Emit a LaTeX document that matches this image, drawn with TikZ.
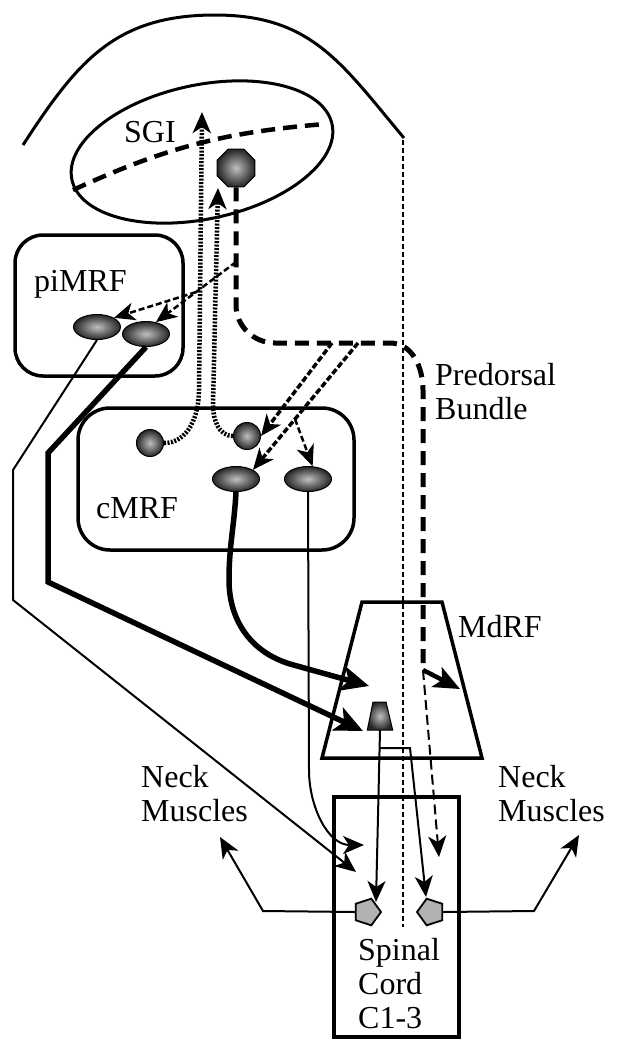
\documentclass[tikz,border=0pt]{standalone}
\usepackage{fontspec}
\setmainfont{Liberation Serif}
\usetikzlibrary{arrows.meta,shapes.geometric,calc}
\tikzset{
    cell/.style={draw=black, line width=1pt, shading=radial, inner color=black!25, outer color=black!85, inner sep=0pt},
    oval/.style={cell, ellipse, minimum width=47pt, minimum height=25pt},
    soma/.style={cell, circle, minimum size=27pt},
    motor/.style={regular polygon, regular polygon sides=5, draw=black, fill=black!30, line width=1.8pt, minimum size=28pt, inner sep=0pt},
    region/.style={draw=black, line width=3.5pt},
    lbl/.style={inner sep=0pt, anchor=north west, align=left, font=\fontsize{32}{34}\selectfont},
    bigtip/.style={-{Stealth[length=28pt, width=25pt, inset=7pt]}},
    smalltip/.style={-{Stealth[length=21pt, width=18pt, inset=6pt]}},
    thickax/.style={line width=5.5pt, bigtip},
    thinax/.style={line width=2pt, smalltip},
    bundle/.style={line width=5pt, dash pattern=on 14pt off 8pt},
    fiber/.style={line width=3.5pt, dash pattern=on 6pt off 2.5pt, smalltip},
    twig/.style={line width=2.5pt, dash pattern=on 6pt off 3pt, smalltip},
    dotfib/.style={line width=4.5pt, dash pattern=on 2pt off 1.5pt, smalltip}
}
\begin{document}
\begin{tikzpicture}[x=1pt, y=1pt]
    \useasboundingbox (0,0) rectangle (622,-1050);
    \draw[line width=3pt] (23,-145) to[out=57, in=180, looseness=1.1] (215,-15) to[out=0, in=130, looseness=1.1] (404,-138);
    \draw[line width=1.2pt, dash pattern=on 5pt off 3pt] (403,-140) -- (403,-927);
    \node[region, line width=3pt, ellipse, minimum width=266pt, minimum height=134pt, rotate=12] (sgi) at (202,-152) {};
    \draw[line width=4.5pt, dash pattern=on 14pt off 8pt] (73,-190) to[bend left=10] (325,-124);
    \node[lbl] (sgilbl) at (124,-121) {SGI};
    \node[cell, regular polygon, regular polygon sides=8, minimum size=41pt] (tect) at (236,-168) {};

    \node[region, rounded corners=28pt, minimum width=168pt, minimum height=141pt] (pibox) at (99,-305.5) {};
    \node[lbl] (pilbl) at (34,-270) {piMRF};
    \node[oval] (pi1) at (97,-327) {};
    \node[oval] (pi2) at (146,-334) {};

    \node[region, rounded corners=32pt, minimum width=276pt, minimum height=142pt] (cbox) at (216,-479) {};
    \node[lbl] (clbl) at (96,-497) {cMRF};
    \node[soma] (cs1) at (150,-443) {};
    \node[soma] (cs2) at (247,-436) {};
    \node[oval] (co1) at (236,-479) {};
    \node[oval] (co2) at (308,-479) {};

    \draw[region, line join=miter] (362,-602) -- (442,-602) -- (482,-758) -- (322,-758) -- cycle;
    \node[lbl] (mdlbl) at (458,-615) {MdRF};
    \node[inner sep=0pt, minimum width=25pt, minimum height=28pt] (md) at (380,-716) {};
    \shade[draw=black, line width=1pt, shading=radial, inner color=black!25, outer color=black!85] (md.south west) -- (373,-702) -- (386,-702) -- (md.south east) -- cycle;

    \node[region, minimum width=125pt, minimum height=240pt] (sc) at (396.5,-917) {};
    \node[lbl] (sclbl) at (358,-938) {Spinal\\Cord\\C1-3};
    \node[motor, shape border rotate=-90] (mnL) at (367,-912) {};
    \node[motor, shape border rotate=90] (mnR) at (431,-912) {};
    \node[lbl] (neckL) at (141,-765) {Neck\\Muscles};
    \node[lbl] (neckR) at (498,-765) {Neck\\Muscles};
    \node[lbl] (pdlbl) at (435,-363) {Predorsal\\Bundle};

    \coordinate (sgiTop) at (202,-112);
    \coordinate (tectIn) at (218,-188);
    \coordinate (pdA) at (423,-670);
    \coordinate (pdB) at (236,-262);
    \coordinate (pdC) at (332,-343);
    \coordinate (pdD) at (358,-343);
    \coordinate (mdIn1) at (369,-686);
    \coordinate (mdIn2) at (363,-731);
    \coordinate (mdOut) at (460,-689);
    \coordinate (scIn1) at (356,-872);
    \coordinate (scIn2) at (364,-845);
    \coordinate (scIn3) at (439,-857);
    \coordinate (mnLIn) at (376,-902);
    \coordinate (mnRIn) at (426,-897);
    \coordinate (mdBr) at (379.5,-748);
    \coordinate (nmL) at (220,-837);
    \coordinate (nmR) at (579,-835);

    \draw[dotfib] (cs1.east) to[out=0, in=-90] (199,-390) -- (sgiTop);
    \draw[dotfib] (cs2.west) to[out=180, in=-90] (213,-405) -- (tectIn);
    \draw[bundle] (tect.south) -- (236,-305) to[out=-90, in=180] (275,-343) -- (390,-343) to[out=0, in=90] (423,-390) -- (pdA);
    \draw[line width=4.5pt, -{Stealth[length=26pt, width=22pt, inset=6pt]}] (pdA) -- (mdOut);
    \draw[line width=2pt, dash pattern=on 10pt off 5pt, smalltip] (pdA) -- (scIn3);
    \draw[twig] (pdB) -- (pi2.50);
    \draw[twig] ($(pdB)!0.5!(pi2.50)$) -- (pi1.north east);
    \draw[fiber] (pdC) -- (cs2.east);
    \draw[fiber] (pdD) -- (co1.north east);
    \draw[twig] ($(pdD)!0.6!(co1.north east)$) -- (co2.70);

    \draw[thinax] (pi1.south) -- (13,-470) -- (13,-600) -- (scIn1);
    \draw[thickax] (pi2.south) -- (48,-453) -- (48,-582) -- (mdIn2);
    \draw[thickax] (co1.south) to[out=-93, in=90] (229,-580) to[out=-90, in=163] (290,-664) -- (mdIn1);
    \draw[thinax] (co2.south) -- (309,-770) to[out=-90, in=180] (scIn2);
    \draw[thinax] (md.south) -- (mnLIn);
    \draw[thinax] (mdBr) -- (410,-748) -- (mnRIn);
    \draw[thinax] (mnL.west) -- (263,-911) -- (nmL);
    \draw[thinax] (mnR.east) -- (534,-911) -- (nmR);
\end{tikzpicture}
\end{document}
